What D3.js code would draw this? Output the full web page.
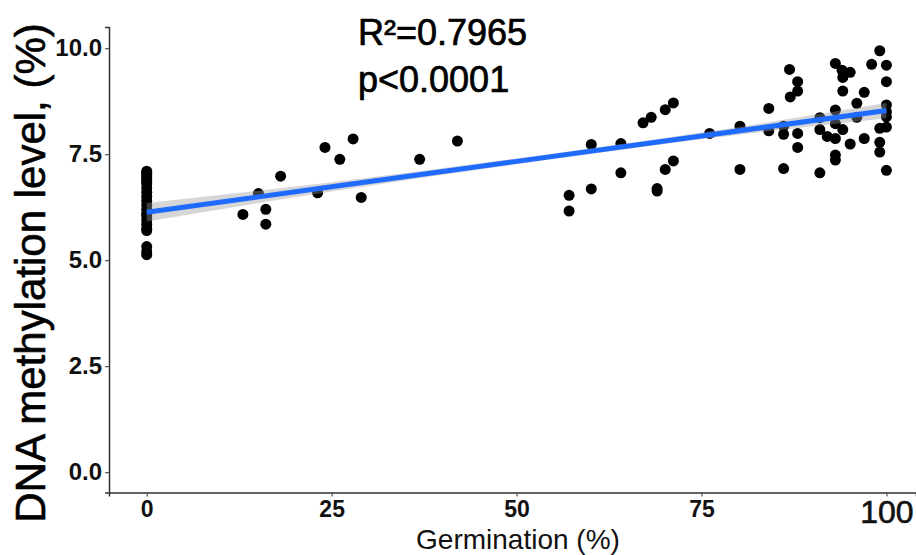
<!DOCTYPE html>
<html>
<head>
<meta charset="utf-8">
<script src="https://cdn.jsdelivr.net/npm/d3@7"></script>
<style>
  body { margin: 0; background: #fff; }
  svg { display: block; font-family: "Liberation Sans", Arial, sans-serif; }
</style>
</head>
<body>
<div id="chart"></div>
<script>
// Germination (%) vs DNA methylation level (%)
var germination = [
  0, 0, 0, 0, 0, 0, 0, 0, 0, 0, 0, 0, 0, 0, 0, 0, 0, 0, 0, 0, 0, 0,
  13, 15.1, 16.1, 16.1, 18.1, 23.1, 24.1, 26.1, 27.9, 29, 36.9, 42,
  57.1, 57.1, 60.1, 60.1, 64.1, 64.1, 67.1, 68.2, 69, 69, 70.1, 71.2, 70.1, 71.2, 76.1,
  80.2, 80.2, 84.1, 84.1, 86.1, 86.1, 86.1, 86.9, 88, 88, 87, 88, 88,
  91, 91, 92, 91, 93.1, 93.1, 93.1, 93.1, 93.1, 93.1, 94, 94.1, 95.1, 94.1, 94.1, 95.1,
  96, 96, 97, 97, 98, 99.1, 99.1, 99.1, 99.1, 100, 100, 100, 100, 100, 100, 100
];
var methylation = [
  7.1, 7.05, 7.0, 6.95, 6.9, 6.85, 6.8, 6.7, 6.6, 6.5, 6.4, 6.3, 6.2, 6.1, 6.05, 5.95, 5.85, 5.75, 5.7, 5.32, 5.2, 5.13,
  6.08, 6.57, 6.2, 5.85, 6.98, 6.59, 7.66, 7.38, 7.86, 6.48, 7.38, 7.81,
  6.53, 6.16, 7.73, 6.68, 7.75, 7.06, 8.24, 8.37, 6.69, 6.63, 8.55, 8.71, 7.14, 7.34, 7.99,
  8.16, 7.14, 8.58, 8.05, 8.16, 7.97, 7.16, 9.5, 9.21, 8.99, 8.85, 7.99, 7.66,
  8.36, 8.08, 7.92, 7.06, 9.64, 8.54, 8.22, 7.87, 7.48, 7.36, 9.48, 9.31, 9.43, 8.99, 8.08, 7.74,
  8.7, 8.37, 8.96, 7.87, 9.62, 9.94, 8.11, 7.78, 7.55, 9.6, 9.21, 8.66, 8.5, 8.38, 8.14, 7.12
];

// linear fit with 95% confidence band
var fitX = [0, 25, 50, 75, 100];
var fitY = [6.13, 6.73, 7.33, 7.93, 8.53];
var fitLower = [5.91, 6.62, 7.26, 7.85, 8.35];
var fitUpper = [6.35, 6.84, 7.40, 8.01, 8.71];

var xTicks = [0, 25, 50, 75, 100];
var yTicks = [0, 2.5, 5, 7.5, 10];
var statLines = ['R\u00b2=0.7965', 'p<0.0001'];

var width = 916, height = 555;

var svg = d3.select('#chart').append('svg')
  .attr('width', width)
  .attr('height', height);

svg.append('rect').attr('width', width).attr('height', height).attr('fill', '#fff');

var x = d3.scaleLinear().domain([-5.1, 104]).range([109, 916]);
var y = d3.scaleLinear().domain([-0.48, 10.5]).range([492.5, 27]);

// points
svg.append('g').selectAll('circle')
  .data(germination)
  .enter()
  .append('circle')
  .attr('cx', function(d) { return x(d); })
  .attr('cy', function(d, i) { return y(methylation[i]); })
  .attr('r', 5.5)
  .attr('fill', '#000');

// confidence band + fit line
var band = fitX.map(function(d, i) { return { x: d, lo: fitLower[i], hi: fitUpper[i], y: fitY[i] }; });

svg.append('path')
  .datum(band)
  .attr('d', d3.area()
    .curve(d3.curveMonotoneX)
    .x(function(d) { return x(d.x); })
    .y0(function(d) { return y(d.lo); })
    .y1(function(d) { return y(d.hi); }))
  .attr('fill', '#999')
  .attr('fill-opacity', 0.4);

svg.append('path')
  .datum(band)
  .attr('d', d3.line()
    .x(function(d) { return x(d.x); })
    .y(function(d) { return y(d.y); }))
  .attr('fill', 'none')
  .attr('stroke', '#1f6bff')
  .attr('stroke-width', 5);

// axes
var xAxis = svg.append('g')
  .attr('transform', 'translate(0,492.5)')
  .call(d3.axisBottom(x).tickValues(xTicks).tickSize(4).tickPadding(4).tickFormat(d3.format('d')));
xAxis.select('.domain').attr('stroke', '#333').attr('stroke-width', 1.5);
xAxis.selectAll('.tick line').attr('stroke', '#555').attr('stroke-width', 1.2);
xAxis.selectAll('.tick text')
  .attr('fill', '#111')
  .style('font-family', '"Liberation Sans", Arial, sans-serif')
  .style('font-size', function(d) { return d === 100 ? '32px' : '23px'; })
  .style('font-weight', 'bold')
  .attr('stroke', function(d) { return d === 100 ? 'none' : 'none'; });
// the 100 label is larger and lighter in the source
xAxis.selectAll('.tick text').filter(function(d) { return d === 100; })
  .style('font-weight', 'normal')
  .attr('stroke', '#111')
  .attr('stroke-width', 0.6);

var yAxis = svg.append('g')
  .attr('transform', 'translate(109,0)')
  .call(d3.axisLeft(y).tickValues(yTicks).tickSize(4).tickPadding(3).tickFormat(d3.format('.1f')));
yAxis.select('.domain').attr('stroke', '#333').attr('stroke-width', 1.5);
yAxis.selectAll('.tick line').attr('stroke', '#555').attr('stroke-width', 1.2);
yAxis.selectAll('.tick text')
  .attr('fill', '#111')
  .style('font-family', '"Liberation Sans", Arial, sans-serif')
  .style('font-size', '24px')
  .style('font-weight', 'bold');

// titles
svg.append('text')
  .attr('x', 518)
  .attr('y', 549)
  .attr('text-anchor', 'middle')
  .style('font-size', '28px')
  .attr('fill', '#111')
  .text('Germination (%)');

svg.append('text')
  .attr('transform', 'translate(45,273) rotate(-90)')
  .attr('text-anchor', 'middle')
  .style('font-size', '42px')
  .attr('fill', '#000')
  .attr('stroke', '#000')
  .attr('stroke-width', 0.6)
  .text('DNA methylation level, (%)');

svg.selectAll('.stat')
  .data(statLines)
  .enter()
  .append('text')
  .attr('class', 'stat')
  .attr('x', 358)
  .attr('y', function(d, i) { return 45 + i * 47; })
  .style('font-size', '36px')
  .attr('fill', '#000')
  .attr('stroke', '#000')
  .attr('stroke-width', 0.7)
  .text(function(d) { return d; });
</script>
</body>
</html>
